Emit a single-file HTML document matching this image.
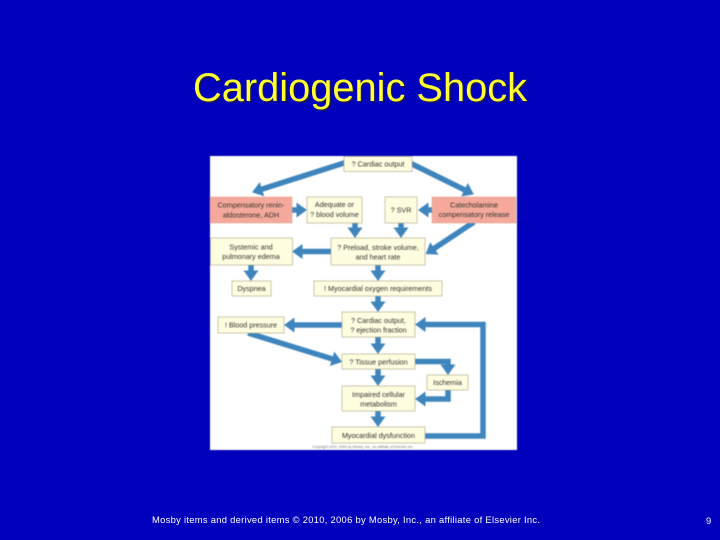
<!DOCTYPE html>
<html><head><meta charset="utf-8"><style>
html,body{margin:0;padding:0;width:720px;height:540px;overflow:hidden;background:#0000bd}
svg{position:absolute;left:0;top:0}
text{font-family:"Liberation Sans",sans-serif}
.b{stroke:#b5b08f;stroke-width:.7;fill:#fffde0}
.p{fill:#f4a99c;stroke:#e0a090;stroke-width:.5}
.t{font-size:7.2px;fill:#33332e;text-anchor:middle}
.a{fill:none;stroke:#3f85bd;stroke-width:5.5}
</style></head><body>
<svg width="720" height="540" viewBox="0 0 720 540" xmlns="http://www.w3.org/2000/svg">
<defs>
<marker id="h" markerUnits="userSpaceOnUse" markerWidth="13" markerHeight="18" refX="0.5" refY="9" orient="auto"><path d="M0,1.500L10.500,9L0,16.500Z" fill="#3f85bd"/></marker>
</defs>
<text x="360" y="101" font-size="39.800" fill="#1a1a50" text-anchor="middle" transform="translate(1.5,1.5)">Cardiogenic Shock</text>
<text x="360" y="101" font-size="39.800" fill="#ffff33" text-anchor="middle">Cardiogenic Shock</text>
<g style="filter:blur(.45px)">
<rect x="210" y="156" width="307" height="294" fill="#fff"/>
<path class="a" marker-end="url(#h)" d="M346,162.400L261.600,189.300"/>
<path class="a" marker-end="url(#h)" d="M410,163L464.900,190"/>
<path class="a" marker-end="url(#h)" d="M292,210H297"/>
<path class="a" marker-end="url(#h)" d="M433,210H428"/>
<path class="a" marker-end="url(#h)" d="M355,222V228"/>
<path class="a" marker-end="url(#h)" d="M401,222V228"/>
<path class="a" marker-end="url(#h)" d="M474,222L434,248.600"/>
<path class="a" marker-end="url(#h)" d="M332,251.500H302"/>
<path class="a" marker-end="url(#h)" d="M251,264V271"/>
<path class="a" marker-end="url(#h)" d="M378,264V271"/>
<path class="a" marker-end="url(#h)" d="M378,296V302"/>
<path class="a" marker-end="url(#h)" d="M343,325H294"/>
<path class="a" marker-end="url(#h)" d="M248,333L332.500,359"/>
<path class="a" marker-end="url(#h)" d="M378,337V344"/>
<path class="a" marker-end="url(#h)" d="M378,369V376"/>
<path class="a" marker-end="url(#h)" d="M378,411V417"/>
<path class="a" marker-end="url(#h)" d="M414,361.500H448V365"/>
<path class="a" marker-end="url(#h)" d="M448,389V399H425"/>
<path class="a" marker-end="url(#h)" d="M424,436H483V324.500H425"/>
<rect class="b" x="344" y="156.500" width="68" height="15"/>
<rect class="p" x="210" y="197" width="82" height="26"/>
<rect class="b" x="307" y="197" width="55" height="26"/>
<rect class="b" x="385" y="197" width="32" height="26"/>
<rect class="p" x="432" y="197" width="84" height="26"/>
<rect class="b" x="210.500" y="238" width="82" height="27"/>
<rect class="b" x="331" y="238" width="94" height="27"/>
<rect class="b" x="232" y="281" width="39" height="15"/>
<rect class="b" x="314" y="281" width="128" height="15"/>
<rect class="b" x="342" y="312" width="73" height="25"/>
<rect class="b" x="218" y="317" width="66" height="16"/>
<rect class="b" x="342" y="354" width="73" height="15"/>
<rect class="b" x="427" y="375" width="41" height="15"/>
<rect class="b" x="342" y="386" width="73" height="25"/>
<rect class="b" x="332" y="427" width="93" height="16"/>
<text class="t" x="378" y="166.500">? Cardiac output</text>
<text class="t" x="251" y="207.500">Compensatory renin-</text>
<text class="t" x="251" y="217.500">aldosterone, ADH</text>
<text class="t" x="334.500" y="207">Adequate or</text>
<text class="t" x="334.500" y="217">? blood volume</text>
<text class="t" x="401" y="212.500">? SVR</text>
<text class="t" x="474" y="207.500">Catecholamine</text>
<text class="t" x="474" y="217">compensatory release</text>
<text class="t" x="251" y="249.500">Systemic and</text>
<text class="t" x="251" y="259">pulmonary edema</text>
<text class="t" x="378" y="250">? Preload, stroke volume,</text>
<text class="t" x="378" y="259.500">and heart rate</text>
<text class="t" x="251.500" y="291">Dyspnea</text>
<text class="t" x="378" y="291">! Myocardial oxygen requirements</text>
<text class="t" x="378.500" y="323">? Cardiac output,</text>
<text class="t" x="378.500" y="332.500">? ejection fraction</text>
<text class="t" x="251" y="327.500">! Blood pressure</text>
<text class="t" x="378.500" y="364.500">? Tissue perfusion</text>
<text class="t" x="447.500" y="385">Ischemia</text>
<text class="t" x="378.500" y="397">Impaired cellular</text>
<text class="t" x="378.500" y="406.500">metabolism</text>
<text class="t" x="378.500" y="438">Myocardial dysfunction</text>
<text x="363" y="448" font-size="3.600" fill="#777" text-anchor="middle">Copyright 2010, 2006 by Mosby, Inc., an affiliate of Elsevier Inc.</text>
</g>
<text x="152" y="523" font-size="9.400" fill="#fff" textLength="388" lengthAdjust="spacing">Mosby items and derived items © 2010, 2006 by Mosby, Inc., an affiliate of Elsevier Inc.</text>
<text x="706" y="524" font-size="9.400" fill="#fff">9</text>
</svg>
</body></html>
